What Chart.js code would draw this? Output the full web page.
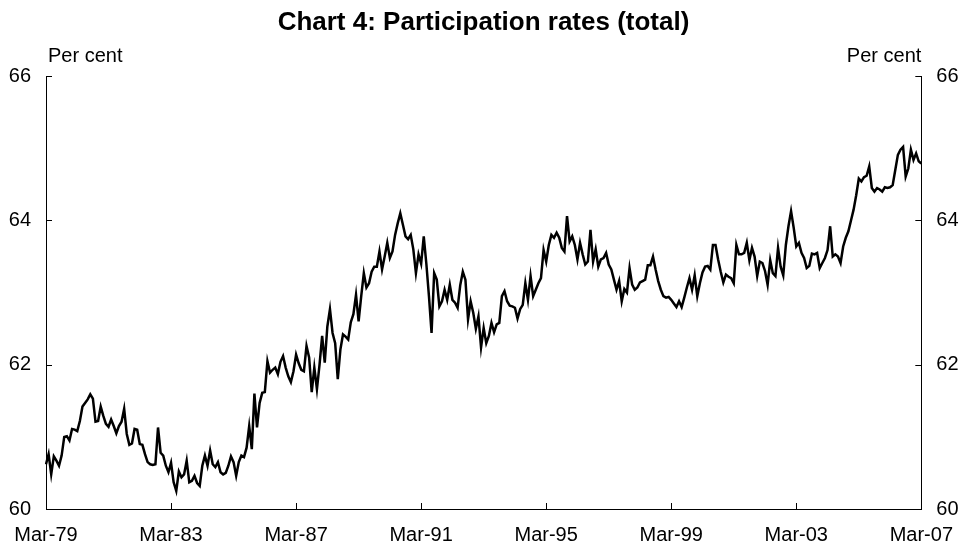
<!DOCTYPE html>
<html>
<head>
<meta charset="utf-8">
<title>Chart 4: Participation rates (total)</title>
<script src="https://cdn.jsdelivr.net/npm/chart.js@4/dist/chart.umd.min.js"></script>
<style>
  html, body { margin: 0; padding: 0; background: #fff; }
  #wrap { width: 967px; height: 551px; position: relative; }
</style>
</head>
<body>
<div id="wrap"><canvas id="participationChart"></canvas></div>
<script>
// ======================================
// Participation rate, monthly, per cent
// Mar-79 .. Mar-07
// ======================================
const participation = [
  60.62, 60.76, 60.48, 60.73, 60.67, 60.60, 60.74, 61.00, 61.01, 60.95,
  61.11, 61.10, 61.08, 61.22, 61.42, 61.47, 61.52, 61.59, 61.53, 61.21,
  61.22, 61.42, 61.29, 61.18, 61.14, 61.24, 61.15, 61.05, 61.15, 61.21,
  61.39, 61.04, 60.89, 60.91, 61.11, 61.10, 60.90, 60.89, 60.76, 60.65,
  60.62, 60.61, 60.62, 61.13, 60.78, 60.74, 60.60, 60.51, 60.64, 60.37,
  60.25, 60.52, 60.44, 60.48, 60.67, 60.37, 60.39, 60.46, 60.36, 60.32,
  60.60, 60.74, 60.60, 60.81, 60.62, 60.58, 60.65, 60.51, 60.48,
  60.50, 60.60, 60.73, 60.65, 60.46, 60.65, 60.74, 60.72, 60.85, 61.15,
  60.83, 61.60, 61.13, 61.47, 61.61, 61.62, 62.05, 61.89, 61.93, 61.96,
  61.87, 62.04, 62.12, 61.96, 61.84, 61.76, 61.91, 62.14, 62.02, 61.93,
  61.91, 62.26, 62.10, 61.62, 61.96, 61.66, 62.00, 62.40, 62.03, 62.53,
  62.77, 62.44, 62.30, 61.80, 62.21, 62.42, 62.39, 62.35, 62.59, 62.70,
  62.97, 62.60, 62.95, 63.27, 63.07, 63.13, 63.29, 63.36, 63.36, 63.57,
  63.32, 63.50, 63.69, 63.48, 63.57, 63.80, 63.96, 64.10,
  63.94, 63.78, 63.74, 63.80, 63.60, 63.27, 63.53, 63.40, 63.78, 63.40,
  62.95, 62.44, 63.27, 63.18, 62.81, 62.88, 63.04, 62.90, 63.11, 62.90,
  62.86, 62.79, 63.10, 63.29, 63.18, 62.63, 62.88, 62.72, 62.50, 62.67,
  62.24, 62.51, 62.30, 62.40, 62.58, 62.45, 62.56, 62.58, 62.95, 63.02,
  62.88, 62.82, 62.81, 62.79, 62.64, 62.77, 62.83, 63.13, 62.90, 63.23,
  62.95, 63.04, 63.13, 63.20, 63.59, 63.43, 63.66, 63.80, 63.76, 63.83,
  63.76, 63.62, 63.57, 64.06, 63.71, 63.78, 63.66,
  63.46, 63.69, 63.53, 63.39, 63.43, 63.87, 63.43, 63.60, 63.36, 63.46,
  63.48, 63.55, 63.39, 63.32, 63.18, 63.04, 63.16, 62.88, 63.05, 63.00,
  63.34, 63.11, 63.04, 63.07, 63.14, 63.16, 63.18, 63.38, 63.38, 63.50,
  63.32, 63.16, 63.04, 62.95, 62.93, 62.94, 62.90, 62.85, 62.80, 62.88,
  62.80, 62.93, 63.07, 63.20, 63.04, 63.24, 62.95, 63.13, 63.28, 63.36,
  63.37, 63.32, 63.66, 63.66, 63.46, 63.29, 63.14, 63.25, 63.22, 63.20,
  63.13, 63.66, 63.53, 63.53, 63.55, 63.69, 63.45,
  63.62, 63.50, 63.23, 63.43, 63.41, 63.30, 63.11, 63.45, 63.27, 63.23,
  63.62, 63.36, 63.24, 63.66, 63.92, 64.13, 63.90, 63.64, 63.69, 63.55,
  63.48, 63.34, 63.37, 63.54, 63.53, 63.55, 63.34, 63.41, 63.48, 63.59,
  63.92, 63.50, 63.53, 63.50, 63.41, 63.64, 63.76, 63.85, 64.00, 64.15,
  64.35, 64.58, 64.54, 64.60, 64.62, 64.75, 64.45, 64.40, 64.45, 64.43,
  64.40, 64.46, 64.45, 64.46, 64.49, 64.70, 64.91, 64.98, 65.02, 64.61,
  64.72, 64.98, 64.84, 64.93, 64.82, 64.79
];

// Axis labels
const xTickLabels = ["Mar-79", "Mar-83", "Mar-87", "Mar-91", "Mar-95", "Mar-99", "Mar-03", "Mar-07"];
const yTicks = [60, 62, 64, 66];
const unitLabel = "Per cent";
const chartTitle = "Chart 4: Participation rates (total)";

// Month categories, first one is March 1979
const monthNames = ["Jan","Feb","Mar","Apr","May","Jun","Jul","Aug","Sep","Oct","Nov","Dec"];
const months = participation.map((_, i) => {
    const m = 2 + i;
    const yr = (1979 + Math.floor(m / 12)) % 100;
    return monthNames[m % 12] + "-" + String(yr).padStart(2, "0");
});

const FONT = "'Liberation Sans', Arial, Helvetica, sans-serif";
Chart.defaults.font.family = FONT;
Chart.defaults.font.size = 20;
Chart.defaults.color = "#000";

// small inward tick marks + "Per cent" captions
const chartExtras = {
    id: "chartExtras",
    afterDraw(chart) {
        const ctx = chart.ctx;
        const { left, right, bottom } = chart.chartArea;
        const xs = chart.scales.x;
        const yl = chart.scales.y;
        const tickLen = 6;

        ctx.save();
        ctx.strokeStyle = "#000";
        ctx.lineWidth = 1;
        ctx.beginPath();
        xs.ticks.forEach((t, i) => {
            const px = Math.round(xs.getPixelForTick(i)) + 0.5;
            ctx.moveTo(px, bottom);
            ctx.lineTo(px, bottom - tickLen);
        });
        yl.ticks.forEach((t, i) => {
            const py = Math.round(yl.getPixelForTick(i)) + 0.5;
            ctx.moveTo(left, py);
            ctx.lineTo(left + tickLen, py);
            ctx.moveTo(right, py);
            ctx.lineTo(right - tickLen, py);
        });
        ctx.stroke();

        ctx.fillStyle = "#000";
        ctx.font = "20px " + FONT;
        ctx.textBaseline = "alphabetic";
        ctx.textAlign = "left";
        ctx.fillText(unitLabel, left + 2, 62);
        ctx.textAlign = "right";
        ctx.fillText(unitLabel, right, 62);
        ctx.restore();
    }
};

const yScale = (pos, width) => ({
    position: pos,
    min: 60,
    max: 66,
    afterBuildTicks: s => { s.ticks = yTicks.map(v => ({ value: v })); },
    afterFit: s => { s.width = width; },
    grid: { display: true, drawOnChartArea: false, drawTicks: false },
    border: { display: true, color: "#000", width: 1 },
    ticks: { padding: 15, font: { size: 20 } }
});

new Chart(document.getElementById("participationChart"), {
    type: "line",
    data: {
        labels: months,
        datasets: [{
            label: "Participation rate",
            data: participation,
            borderColor: "#000",
            borderWidth: 2.5,
            pointRadius: 0,
            tension: 0,
            fill: false,
            yAxisID: "y"
        }]
    },
    options: {
        responsive: true,
        maintainAspectRatio: false,
        animation: false,
        layout: { padding: 0 },
        plugins: {
            legend: { display: false },
            tooltip: { enabled: false },
            title: {
                display: true,
                text: chartTitle,
                color: "#000",
                font: { size: 26, weight: "bold" },
                padding: { top: 7, bottom: 38 }
            }
        },
        scales: {
            x: {
                type: "category",
                offset: false,
                afterBuildTicks: s => {
                    s.ticks = s.ticks.filter(t => xTickLabels.includes(months[t.value]));
                },
                afterFit: s => { s.height = 42; },
                grid: { display: true, drawOnChartArea: false, drawTicks: false },
                border: { display: true, color: "#000", width: 1 },
                ticks: {
                    autoSkip: false,
                    maxRotation: 0,
                    padding: 14,
                    font: { size: 20 },
                    callback: function (value) { return months[value]; }
                }
            },
            y: yScale("left", 46),
            y2: yScale("right", 45)
        }
    },
    plugins: [chartExtras]
});
</script>
</body>
</html>
